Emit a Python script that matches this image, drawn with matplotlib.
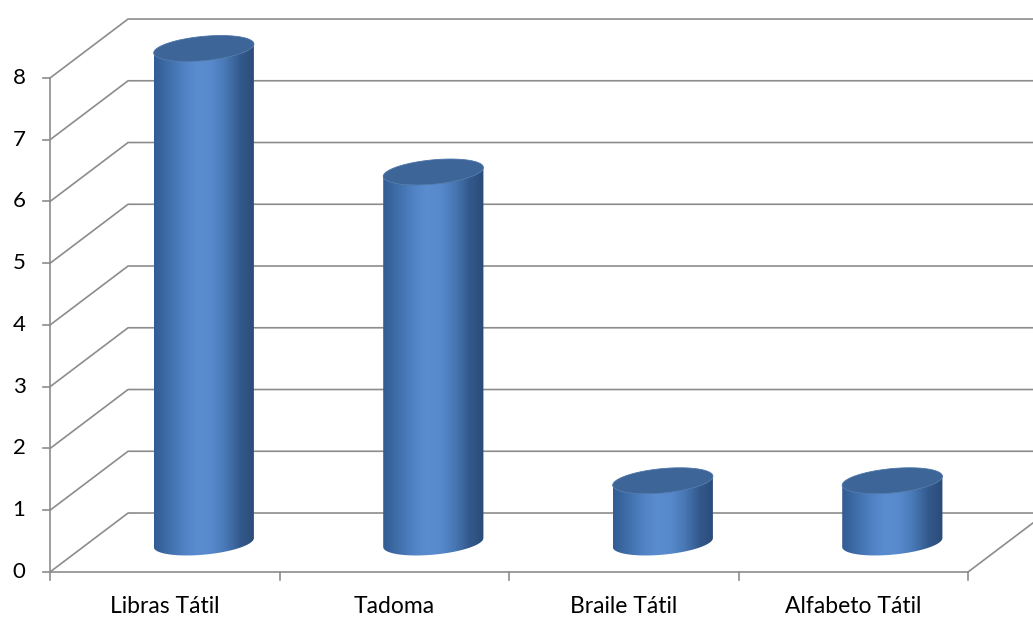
import numpy as np
import matplotlib
matplotlib.use('Agg')
import matplotlib.pyplot as plt
from matplotlib.patches import Polygon
from matplotlib.colors import LinearSegmentedColormap

categories = ['Libras Tátil', 'Tadoma', 'Braile Tátil', 'Alfabeto Tátil']
values = [8, 6, 1, 1]
y_ticks = [0, 1, 2, 3, 4, 5, 6, 7, 8]

GRID = '#8c8c8c'
TOP = '#3d6597'
side_cmap = LinearSegmentedColormap.from_list(
    'cyl', ['#315c94', '#3f6ea9', '#4f80c2', '#5a8dd0', '#5789cc', '#4877b4', '#33598c', '#2b4b78'])

plt.rcParams['font.family'] = ['Lato', 'DejaVu Sans']

fig = plt.figure(figsize=(10.33, 6.17), dpi=100)
ax = fig.add_axes([0, 0, 1, 1])
ax.set_xlim(-0.218, 4.283)
ax.set_ylim(-0.729, 9.263)
ax.axis('off')

# depth of the fake 3d box, data units
DX = 0.34
DY = 0.955
# cylinder ellipse: half width, depth skew
A, P, Q = 0.205, 0.075, 0.21

# walls and gridlines
for v in y_ticks:
    ax.plot([0, DX, len(categories) + DX], [v, v + DY, v + DY], color=GRID, lw=1.2, zorder=1)
    ax.plot([-0.03, 0], [v, v], color=GRID, lw=1.2, zorder=1)
    ax.text(-0.135, v, str(v), ha='center', va='center', fontsize=16)
ax.plot([0, 0], [0, y_ticks[-1]], color=GRID, lw=1.2, zorder=1)
ax.plot([0, len(categories)], [0, 0], color=GRID, lw=1.2, zorder=1)
ax.plot([len(categories), len(categories) + DX], [0, DY], color=GRID, lw=1.2, zorder=1)
for i in range(len(categories) + 1):
    ax.plot([i, i], [0, -0.13], color=GRID, lw=1.2, zorder=1)


def ellipse(cx, cy, t):
    return np.column_stack([cx + A * np.cos(t) + P * np.sin(t), cy + Q * np.sin(t)])


t0 = np.arctan2(P, A)
front = np.linspace(t0 - np.pi, t0, 100)
full = np.linspace(0, 2 * np.pi, 200)

for i, (cat, v) in enumerate(zip(categories, values)):
    cx = i + 0.5 + DX / 2
    base = DY / 2
    top = v + DY / 2
    bottom_pts = ellipse(cx, base, front)
    top_pts = ellipse(cx, top, front[::-1])
    side = Polygon(np.vstack([bottom_pts, top_pts]), closed=True,
                   facecolor='none', edgecolor='none', zorder=3)
    ax.add_patch(side)
    xl, xr = bottom_pts[0, 0], bottom_pts[-1, 0]
    grad = np.linspace(0, 1, 256)[None, :]
    im = ax.imshow(grad, cmap=side_cmap, extent=[xl, xr, base - Q - 0.1, top + Q],
                   aspect='auto', origin='lower', zorder=3, interpolation='bilinear')
    im.set_clip_path(side)
    ax.add_patch(Polygon(ellipse(cx, top, full), closed=True, facecolor=TOP,
                         edgecolor='#4a74a8', lw=0.6, zorder=4))
    ax.text(i + 0.5, -0.567, cat, ha='center', va='center', fontsize=16.5)

fig.savefig('out.png', dpi=100)
